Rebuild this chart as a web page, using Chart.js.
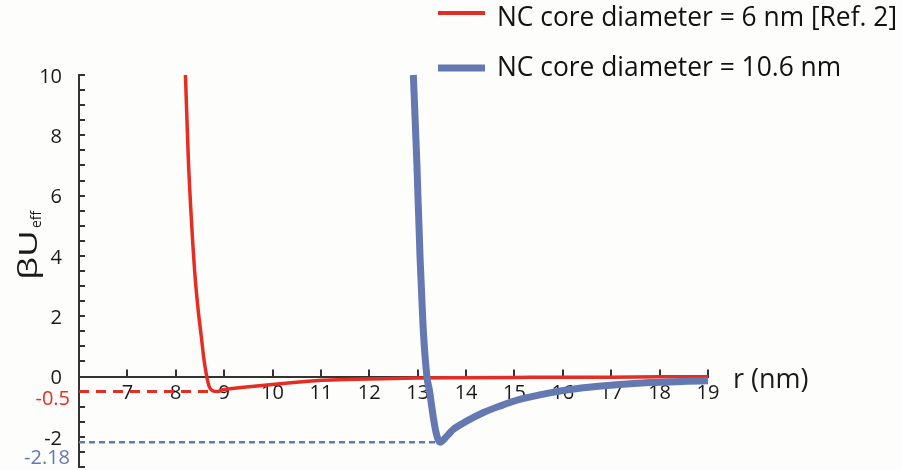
<!DOCTYPE html>
<html>
<head>
<meta charset="utf-8">
<script src="https://cdn.jsdelivr.net/npm/chart.js@4"></script>
<style>
  html, body { margin: 0; padding: 0; background: #fdfdfb; }
  #wrap { width: 902px; height: 470px; position: relative; }
</style>
</head>
<body>
<div id="wrap"><canvas id="c" width="902" height="470"></canvas></div>
<script>
// Effective pair potential βU_eff versus separation r (nm)
const redR  = [8.20, 8.26, 8.33, 8.40, 8.47, 8.53, 8.58, 8.64, 8.69, 8.76, 8.86, 8.98, 9.46, 9.94, 10.5, 10.95, 11.5, 12, 13, 14, 15, 16, 17, 18, 19];
const redU  = [10, 7.2, 5.0, 3.3, 2.1, 1.3, 0.6, 0, -0.33, -0.47, -0.5, -0.44, -0.35, -0.27, -0.19, -0.13, -0.1, -0.08, -0.05, -0.04, -0.03, -0.02, -0.02, -0.01, -0.01];
const blueR = [12.91, 12.98, 13.05, 13.11, 13.19, 13.24, 13.32, 13.38, 13.46, 13.6, 13.73, 14.01, 14.35, 14.70, 15.11, 15.73, 16.42, 17.11, 17.80, 18.56, 19.0];
const blueU = [10, 7.2, 3.9, 1.7, 0, -0.43, -1.32, -1.86, -2.18, -1.98, -1.76, -1.48, -1.2, -0.98, -0.76, -0.54, -0.37, -0.27, -0.2, -0.16, -0.14];

const seriesNames = ['NC core diameter = 6 nm [Ref. 2]', 'NC core diameter = 10.6 nm'];
const xTickValues = [7, 8, 9, 10, 11, 12, 13, 14, 15, 16, 17, 18, 19];
const yLabelValues = [10, 8, 6, 4, 2, 0, -2];
const xTitle = 'r (nm)';

const RED = '#e62d23';
const BLUE = '#6478b2';
const AXIS = '#333333';
const FONT = "'Open Sans', 'Noto Sans', sans-serif";

function toPoints(xs, ys) { return xs.map((x, i) => ({ x: x, y: ys[i] })); }
function minPoint(xs, ys) {
  let k = 0;
  ys.forEach((v, i) => { if (v < ys[k]) k = i; });
  return { x: xs[k], y: ys[k] };
}
const redMin = minPoint(redR, redU);
const blueMin = minPoint(blueR, blueU);

const decor = {
  id: 'decor',
  beforeDatasetsDraw(chart) {
    const ctx = chart.ctx, xs = chart.scales.x, ys = chart.scales.y;
    const left = chart.chartArea.left;
    const y0 = ys.getPixelForValue(0);
    ctx.save();
    ctx.strokeStyle = AXIS;
    ctx.lineWidth = 2;
    ctx.beginPath();
    for (let v = ys.min; v <= ys.max + 1e-9; v += 0.5) {
      const p = Math.round(ys.getPixelForValue(v));
      ctx.moveTo(left, p); ctx.lineTo(left + 6, p);
    }
    xTickValues.forEach(v => {
      const p = Math.round(xs.getPixelForValue(v));
      ctx.moveTo(p, y0); ctx.lineTo(p, y0 - 7);
    });
    ctx.stroke();
    ctx.restore();
  },
  afterDraw(chart) {
    const ctx = chart.ctx, xs = chart.scales.x, ys = chart.scales.y;
    const left = chart.chartArea.left;
    ctx.save();
    ctx.textBaseline = 'middle';
    ctx.textAlign = 'right';
    ctx.font = '20px ' + FONT;
    ctx.fillStyle = RED;
    ctx.fillText(String(redMin.y), left - 9, ys.getPixelForValue(redMin.y) + 8);
    ctx.fillStyle = BLUE;
    ctx.fillText(String(blueMin.y), left - 9, ys.getPixelForValue(blueMin.y) + 16);

    // axis title at the right end of the r axis
    ctx.textAlign = 'left';
    ctx.textBaseline = 'alphabetic';
    ctx.fillStyle = '#1a1a1a';
    ctx.font = '27px ' + FONT;
    ctx.fillText(xTitle, xs.right + 25, ys.getPixelForValue(0) + 11);

    // rotated y title with subscript
    ctx.save();
    ctx.translate(37, 280);
    ctx.rotate(-Math.PI / 2);
    ctx.font = '26px ' + FONT;
    const w = ctx.measureText('βU').width;
    ctx.save();
    ctx.scale(50 / w, 1);
    ctx.fillText('βU', 0, 0);
    ctx.restore();
    ctx.font = '14px ' + FONT;
    ctx.fillText('eff', 52, 4);
    ctx.restore();

    // legend
    const items = [
      { color: RED, width: 4, y: 13, base: 26 },
      { color: BLUE, width: 7, y: 68, base: 76 }
    ];
    ctx.font = '28px ' + FONT;
    const sx = 400 / ctx.measureText(seriesNames[0]).width;
    items.forEach((it, i) => {
      ctx.strokeStyle = it.color;
      ctx.lineWidth = it.width;
      ctx.lineCap = 'butt';
      ctx.beginPath();
      ctx.moveTo(438, it.y); ctx.lineTo(485, it.y);
      ctx.stroke();
      ctx.save();
      ctx.translate(497, it.base);
      ctx.scale(sx, 1);
      ctx.fillStyle = '#111';
      ctx.fillText(seriesNames[i], 0, 0);
      ctx.restore();
    });
    ctx.restore();
  }
};

new Chart(document.getElementById('c'), {
  type: 'line',
  data: {
    datasets: [
      {
        label: 'guide-red',
        data: [{ x: 6, y: redMin.y }, { x: redMin.x, y: redMin.y }],
        borderColor: RED, borderWidth: 3, borderDash: [10, 7], pointRadius: 0
      },
      {
        label: 'guide-blue',
        data: [{ x: 6, y: blueMin.y }, { x: blueMin.x, y: blueMin.y }],
        borderColor: BLUE, borderWidth: 2.5, borderDash: [6, 4], pointRadius: 0
      },
      {
        label: seriesNames[1],
        data: toPoints(blueR, blueU),
        borderColor: BLUE, borderWidth: 7, pointRadius: 0,
        cubicInterpolationMode: 'monotone'
      },
      {
        label: seriesNames[0],
        data: toPoints(redR, redU),
        borderColor: RED, borderWidth: 3.5, pointRadius: 0,
        cubicInterpolationMode: 'monotone'
      }
    ]
  },
  options: {
    responsive: false,
    devicePixelRatio: 1,
    animation: false,
    clip: false,
    layout: { padding: { left: 0, right: 194, top: 75, bottom: 3 } },
    plugins: { legend: { display: false }, tooltip: { enabled: false } },
    scales: {
      x: {
        type: 'linear',
        position: { y: 0 },
        min: 6, max: 19,
        afterFit(s) { s.height = 0; s.paddingLeft = 0; s.paddingRight = 0; },
        afterBuildTicks(s) { s.ticks = xTickValues.map(v => ({ value: v })); },
        grid: { display: false },
        border: { display: true, color: AXIS, width: 2 },
        ticks: {
          autoSkip: false, maxRotation: 0, padding: -3,
          color: '#1a1a1a', font: { family: FONT, size: 20 }
        }
      },
      y: {
        type: 'linear',
        min: -3, max: 10,
        afterFit(s) { s.width = 79; s.paddingTop = 0; s.paddingBottom = 0; },
        afterBuildTicks(s) { s.ticks = yLabelValues.map(v => ({ value: v })); },
        grid: { display: false },
        border: { display: true, color: AXIS, width: 2 },
        ticks: {
          autoSkip: false, padding: 9, labelOffset: 2,
          color: '#1a1a1a', font: { family: FONT, size: 20 }
        }
      }
    }
  },
  plugins: [decor]
});
</script>
</body>
</html>
